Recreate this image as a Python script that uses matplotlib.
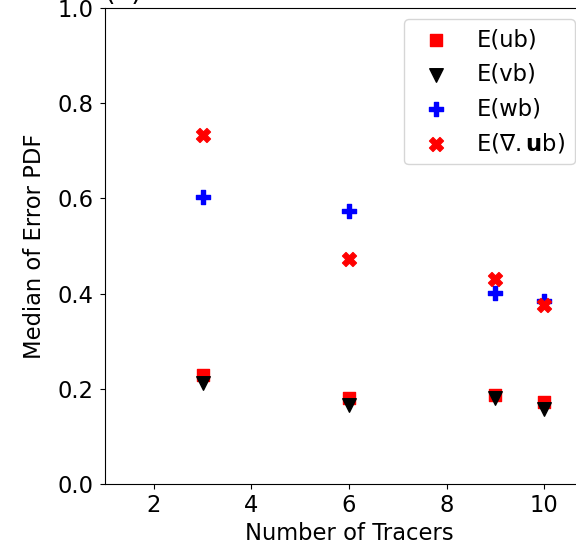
import numpy as np
import matplotlib.pyplot as plt

# median error per tracer count
tracers = np.array([3, 6, 9, 10])
err_ub = np.array([0.228, 0.180, 0.187, 0.172])
err_vb = np.array([0.213, 0.165, 0.181, 0.158])
err_wb = np.array([0.603, 0.573, 0.402, 0.384])
err_div = np.array([0.733, 0.473, 0.431, 0.377])

plt.rcParams['font.size'] = 16.3

fig = plt.figure(figsize=(5.76, 5.48), dpi=100)
ax = fig.add_axes([0.1823, 0.1168, 0.847, 0.8686])

ax.scatter(tracers, err_ub, marker='s', color='red', s=85, label='E(ub)')
ax.scatter(tracers, err_vb, marker='v', color='black', s=95, label='E(vb)')
ax.scatter(tracers, err_wb, marker='P', color='blue', s=100, label='E(wb)')
ax.scatter(tracers, err_div, marker='X', color='red', s=100,
           label=r'E($\nabla.\mathbf{u}$b)')

ax.set_xlim(1, 11)
ax.set_ylim(0, 1)
ax.set_xticks([2, 4, 6, 8, 10])
ax.set_yticks([0.0, 0.2, 0.4, 0.6, 0.8, 1.0])
ax.tick_params(axis='y', pad=5)
ax.set_xlabel('Number of Tracers')
ax.set_ylabel('Median of Error PDF', labelpad=8)
ax.set_title('(a)', loc='left')
ax.legend(loc='upper right', bbox_to_anchor=(0.986, 1.0), fontsize=16.3)

fig.savefig('out.png', dpi=100)
